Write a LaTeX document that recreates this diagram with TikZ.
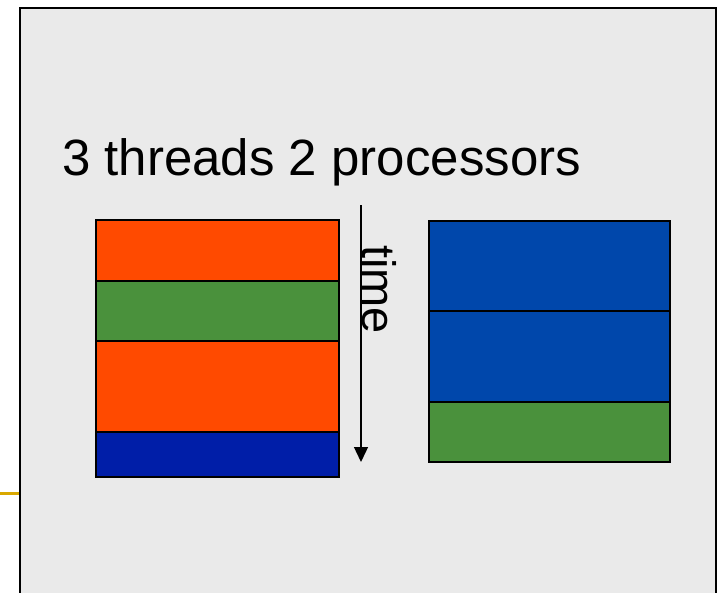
\documentclass[tikz,border=0pt]{standalone}
\usepackage{fontspec}
\setmainfont{Liberation Sans}
\usetikzlibrary{arrows.meta}
\definecolor{bggray}{HTML}{EAEAEA}
\definecolor{torange}{HTML}{FF4A00}
\definecolor{tgreen}{HTML}{4A913C}
\definecolor{tdblue}{HTML}{001EA8}
\definecolor{tblue}{HTML}{0047AB}
\definecolor{tyellow}{HTML}{D9A800}
\tikzset{
  slot/.style={draw=black, line width=1.5pt, inner sep=0pt, outer sep=0pt, anchor=north west},
  bigtext/.style={inner sep=0pt}
}
\begin{document}
\begin{tikzpicture}[x=1pt,y=-1pt]
\useasboundingbox (0,0) rectangle (717,592);
% slide panel
\filldraw[fill=bggray, draw=black, line width=2pt] (20,8) rectangle (716,610);
\coordinate (ya) at (0,493);
\coordinate (yb) at (19,493);
\draw[tyellow, line width=3pt] (ya) -- (yb);
% title
\node[bigtext, font=\fontsize{51}{55}\selectfont, anchor=base west] (title) at (62,175) {3 threads 2 processors};
% left processor
\node[slot, fill=torange, minimum width=243pt, minimum height=61pt] (l1) at (96,220) {};
\node[slot, fill=tgreen,  minimum width=243pt, minimum height=60pt] (l2) at (96,281) {};
\node[slot, fill=torange, minimum width=243pt, minimum height=91pt] (l3) at (96,341) {};
\node[slot, fill=tdblue,  minimum width=243pt, minimum height=45pt] (l4) at (96,432) {};
% right processor
\node[slot, fill=tblue,  minimum width=241pt, minimum height=90pt] (r1) at (429,221) {};
\node[slot, fill=tblue,  minimum width=241pt, minimum height=91pt] (r2) at (429,311) {};
\node[slot, fill=tgreen, minimum width=241pt, minimum height=60pt] (r3) at (429,402) {};
% time arrow
\coordinate (ts) at (361,205);
\coordinate (te) at (361,462);
\draw[line width=1.3pt, -{Triangle[length=15pt,width=14pt]}] (ts) -- (te);
\node[bigtext, font=\fontsize{47}{50}\selectfont, rotate=-90, anchor=base west] (time) at (362,245) {time};
\end{tikzpicture}
\end{document}
